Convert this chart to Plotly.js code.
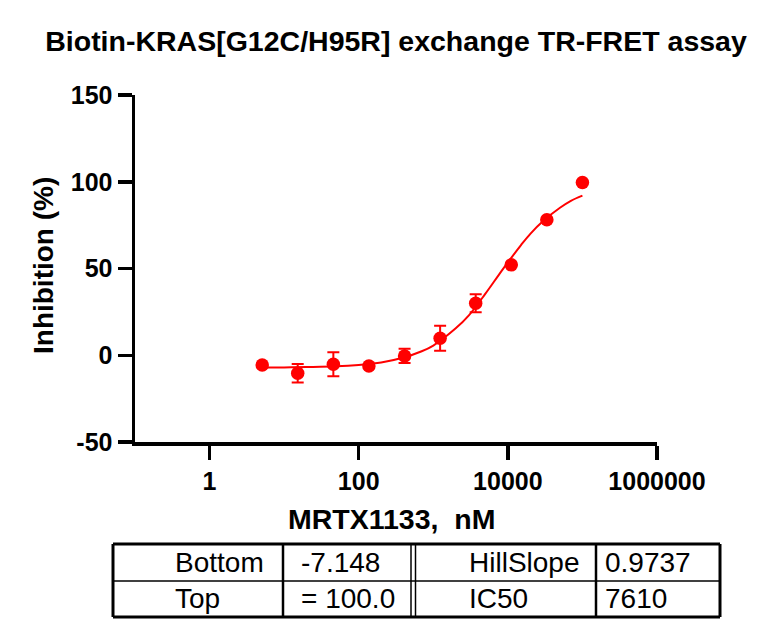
<!DOCTYPE html>
<html>
<head>
<meta charset="utf-8">
<script src="https://cdn.plot.ly/plotly-3.0.1.min.js"></script>
<style>
  html, body { margin: 0; padding: 0; background: #fff; }
  #chart { width: 773px; height: 636px; }
</style>
</head>
<body>
<div id="chart"></div>
<script>
/* ── Data ── */
var CONC_NM   = [5.08, 15.2, 45.7, 137, 412, 1235, 3704, 11111, 33333, 100000];
var INHIB_PCT = [-5.6, -10.4, -5.2, -6.2, -0.4, 9.8, 30.0, 52.1, 78.1, 99.6];
var INHIB_ERR = [0.8, 5.3, 6.9, 0.8, 4.1, 7.2, 5.2, 0, 0, 0];

/* fitted curve */
var CURVE_X = [5, 10, 20, 50, 100, 200, 400, 700, 1000, 2000, 3000, 5000, 7610, 10000, 15000, 20000, 30000, 50000, 70000, 100000];
var CURVE_Y = [-7.0, -7.0, -6.8, -6.4, -5.6, -4.2, -1.3, 2.3, 5.6, 15.5, 23.0, 35.5, 46.5, 53.5, 63.5, 70.0, 77.5, 85.0, 89.0, 92.0];

var X_TICKS  = [1, 100, 10000, 1000000];
var X_LABELS = ['1', '100', '10000', '1000000'];
var Y_TICKS  = [-50, 0, 50, 100, 150];
var Y_LABELS = ['-50', '0', '50', '100', '150'];

/* fit results table */
var TABLE_ROWS = [
  ['Bottom', '-7.148', 'HillSlope', '0.9737'],
  ['Top', '= 100.0', 'IC50', '7610']
];

var RED  = '#FF0000';
var FONT = 'Arial, "Liberation Sans", sans-serif';

/* ── plot area in pixels ── */
var W = 773, H = 636;
var L = 135, R = 657, T = 95, B = 442;
function px(x) { return (x - L) / (R - L); }
function py(y) { return (B - y) / (B - T); }

/* ── Table shapes ── */
var tbl = { x0: 113, x1: 720, y0: 544, ym: 581, y1: 617, cols: [283, 596], dbl: [411, 415.5] };
var shapes = [];
function seg(x0, y0, x1, y1, w) {
  shapes.push({
    type: 'line', xref: 'paper', yref: 'paper',
    x0: px(x0), x1: px(x1), y0: py(y0), y1: py(y1),
    line: { color: '#000', width: w }
  });
}
seg(tbl.x0, tbl.y0, tbl.x1, tbl.y0, 3);
seg(tbl.x0, tbl.y1, tbl.x1, tbl.y1, 3);
seg(tbl.x0, tbl.y0, tbl.x0, tbl.y1, 3);
seg(tbl.x1, tbl.y0, tbl.x1, tbl.y1, 3);
seg(tbl.x0, tbl.ym, tbl.x1, tbl.ym, 1.5);
tbl.cols.forEach(function (c) { seg(c, tbl.y0, c, tbl.y1, 2.5); });
tbl.dbl.forEach(function (c) { seg(c, tbl.y0, c, tbl.y1, 1.5); });

/* ── Annotations ── */
var ann = [];
var colX = [173, 299, 467, 603];
var rowY = [562, 598];
TABLE_ROWS.forEach(function (row, r) {
  row.forEach(function (txt, c) {
    ann.push({
      xref: 'paper', yref: 'paper', x: px(colX[c]), y: py(rowY[r]),
      text: txt, showarrow: false, xanchor: 'left', yanchor: 'middle',
      font: { family: FONT, size: 28, color: '#000' }
    });
  });
});

/* axis titles */
ann.push({
  xref: 'paper', yref: 'paper', x: px(43), y: py(266),
  text: '<b>Inhibition (%)</b>', textangle: -90, showarrow: false,
  xanchor: 'center', yanchor: 'middle',
  font: { family: FONT, size: 28, color: '#000' }
});
ann.push({
  xref: 'paper', yref: 'paper', x: px(391), y: py(519),
  text: '<b>MRTX1133,\u00A0 nM</b>', showarrow: false,
  xanchor: 'center', yanchor: 'middle',
  font: { family: FONT, size: 28.5, color: '#000' }
});

/* ── Traces ── */
var traces = [
  {
    x: CURVE_X, y: CURVE_Y, mode: 'lines', type: 'scatter',
    line: { color: RED, width: 2, shape: 'spline', smoothing: 1 },
    hoverinfo: 'skip', showlegend: false
  },
  {
    x: CONC_NM, y: INHIB_PCT, mode: 'markers', type: 'scatter',
    marker: { color: RED, size: 13.5 },
    error_y: { type: 'data', array: INHIB_ERR, visible: true, color: RED, thickness: 2, width: 6 },
    showlegend: false
  }
];

var axisFont = { family: FONT, size: 25, color: '#000', weight: 'bold' };

var layout = {
  width: W, height: H,
  margin: { l: L, r: W - R, t: T, b: H - B },
  paper_bgcolor: '#fff', plot_bgcolor: '#fff',
  font: { family: FONT, color: '#000' },
  title: {
    text: '<b>Biotin-KRAS[G12C/H95R] exchange TR-FRET assay</b>',
    x: 396 / W, xanchor: 'center', y: 1 - 41 / H, yanchor: 'middle',
    font: { family: FONT, size: 28.5, color: '#000' }
  },
  xaxis: {
    type: 'log', range: [-1, 6],
    tickvals: X_TICKS, ticktext: X_LABELS,
    ticks: 'outside', ticklen: 14, tickwidth: 3.5, tickcolor: '#000',
    showline: true, linecolor: '#000', linewidth: 3.5,
    showgrid: false, zeroline: false,
    tickfont: axisFont, fixedrange: true
  },
  yaxis: {
    range: [-50, 150], tickvals: Y_TICKS, ticktext: Y_LABELS,
    ticks: 'outside', ticklen: 14, tickwidth: 3.5, tickcolor: '#000',
    showline: true, linecolor: '#000', linewidth: 3.5,
    showgrid: false, zeroline: false,
    tickfont: axisFont, fixedrange: true
  },
  shapes: shapes,
  annotations: ann,
  showlegend: false
};

Plotly.newPlot('chart', traces, layout, { displayModeBar: false, staticPlot: true });
</script>
</body>
</html>
